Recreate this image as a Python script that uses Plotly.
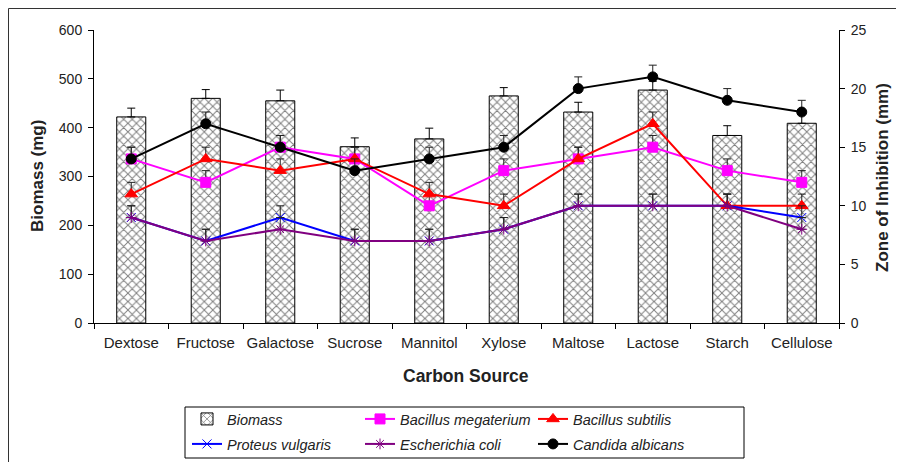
import plotly.graph_objects as go

# Carbon sources on the category axis
sources = ["Dextose", "Fructose", "Galactose", "Sucrose", "Mannitol",
           "Xylose", "Maltose", "Lactose", "Starch", "Cellulose"]

# Biomass (mg), left axis
biomass = [422, 460, 455, 361, 377, 465, 432, 477, 384, 409]
biomass_err = [18, 18, 22, 18, 22, 17, 20, 18, 20, 20]

# Zone of inhibition (mm), right axis
b_megaterium = [14, 12, 15, 14, 10, 13, 14, 15, 13, 12]
b_subtilis = [11, 14, 13, 14, 11, 10, 14, 17, 10, 10]
p_vulgaris = [9, 7, 9, 7, 7, 8, 10, 10, 10, 9]
e_coli = [9, 7, 8, 7, 7, 8, 10, 10, 10, 8]
c_albicans = [14, 17, 15, 13, 14, 15, 20, 21, 19, 18]
zone_err = [1] * 10

FONT = "Arial, Liberation Sans, sans-serif"
INK = "#222222"

# the page body adds an 8px margin, so positions below are page pixels
# converted to paper fractions of the 745x293 plot area (left 94, bottom 323)
def px(x):
    return (x - 94) / 745


def py(y):
    return (323 - y) / 293


fig = go.Figure()
fig.add_trace(
    go.Bar(
        x=sources,
        y=biomass,
        name="Biomass",
        width=0.39,
        legend="legend",
        marker=dict(
            color="white",
            line=dict(color="black", width=1),
            pattern=dict(shape="x", fgcolor="black", bgcolor="white", size=6, solidity=0.3),
        ),
        error_y=dict(type="data", symmetric=False, array=biomass_err,
                     arrayminus=[0] * 10, color="black", thickness=1, width=4),
    )
)

lines = [
    ("Bacillus megaterium", b_megaterium, "#ff00ff", "square", 10, "legend"),
    ("Bacillus subtilis", b_subtilis, "#ff0000", "triangle-up", 11, "legend"),
    ("Proteus vulgaris", p_vulgaris, "#0000ff", "x-thin-open", 9, "legend2"),
    ("Escherichia coli", e_coli, "#800080", "asterisk-open", 9, "legend2"),
    ("Candida albicans", c_albicans, "#000000", "circle", 10, "legend2"),
]
for name, vals, color, symbol, size, leg in lines:
    fig.add_trace(
        go.Scatter(
            x=sources,
            y=vals,
            name=name,
            yaxis="y2",
            legend=leg,
            mode="lines+markers",
            line=dict(color=color, width=2),
            marker=dict(symbol=symbol, size=size, color=color,
                        line=dict(color=color, width=1)),
            error_y=dict(type="data", symmetric=False, array=zone_err,
                         arrayminus=[0] * 10, color=INK, thickness=1, width=4),
        )
    )

legend_style = dict(
    orientation="h", xanchor="left", yanchor="top",
    entrywidth=128, entrywidthmode="pixels",
    borderwidth=0, bgcolor="rgba(0,0,0,0)",
    font=dict(family=FONT, size=14.5, style="italic", color=INK),
    itemwidth=30,
)

title_font = dict(family=FONT, size=17, color=INK)

fig.update_layout(
    width=904,
    height=462,
    margin=dict(l=86, r=73, t=22, b=147, autoexpand=False),
    paper_bgcolor="white",
    plot_bgcolor="white",
    font=dict(family=FONT, size=14, color=INK),
    xaxis=dict(
        range=[-0.5, 9.5],
        showline=True, linecolor="black", linewidth=1, tickangle=0,
        ticks="outside", tickson="boundaries", ticklen=5, tickcolor="black",
        showgrid=False, tickfont=dict(size=15), ticklabelstandoff=6,
    ),
    yaxis=dict(
        range=[0, 600], dtick=100, showline=True, linecolor="black", linewidth=1,
        ticks="outside", ticklen=5, tickcolor="black", showgrid=False,
        zeroline=False, tickfont=dict(size=14), ticklabelstandoff=3,
    ),
    yaxis2=dict(
        range=[0, 25], dtick=5, overlaying="y", side="right",
        showline=True, linecolor="black", linewidth=1,
        ticks="outside", ticklen=5, tickcolor="black", showgrid=False,
        zeroline=False, tickfont=dict(size=14), ticklabelstandoff=3,
    ),
    legend=dict(x=px(187), y=py(403), **legend_style),
    legend2=dict(x=px(187), y=py(428), **legend_style),
    shapes=[
        # outer chart frame
        dict(type="rect", xref="paper", yref="paper",
             x0=px(8.5), x1=px(920), y0=py(480), y1=py(8.5),
             line=dict(color="#333333", width=1), fillcolor="rgba(0,0,0,0)",
             layer="below"),
        # legend box
        dict(type="rect", xref="paper", yref="paper",
             x0=px(185), x1=px(744), y0=py(458), y1=py(407),
             line=dict(color="black", width=1), fillcolor="rgba(0,0,0,0)",
             layer="below"),
    ],
    annotations=[
        dict(text="<b>Biomass (mg)</b>", xref="paper", yref="paper",
             x=px(37), y=py(176), textangle=-90, xanchor="center", yanchor="middle",
             showarrow=False, font=title_font),
        dict(text="<b>Zone of Inhibition (mm)</b>", xref="paper", yref="paper",
             x=px(882), y=py(178), textangle=-90, xanchor="center", yanchor="middle",
             showarrow=False, font=title_font),
        dict(text="<b>Carbon Source</b>", xref="paper", yref="paper",
             x=px(466), y=py(376), xanchor="center", yanchor="middle",
             showarrow=False, font=dict(family=FONT, size=17.5, color=INK)),
    ],
)

fig.write_html("out.html")
